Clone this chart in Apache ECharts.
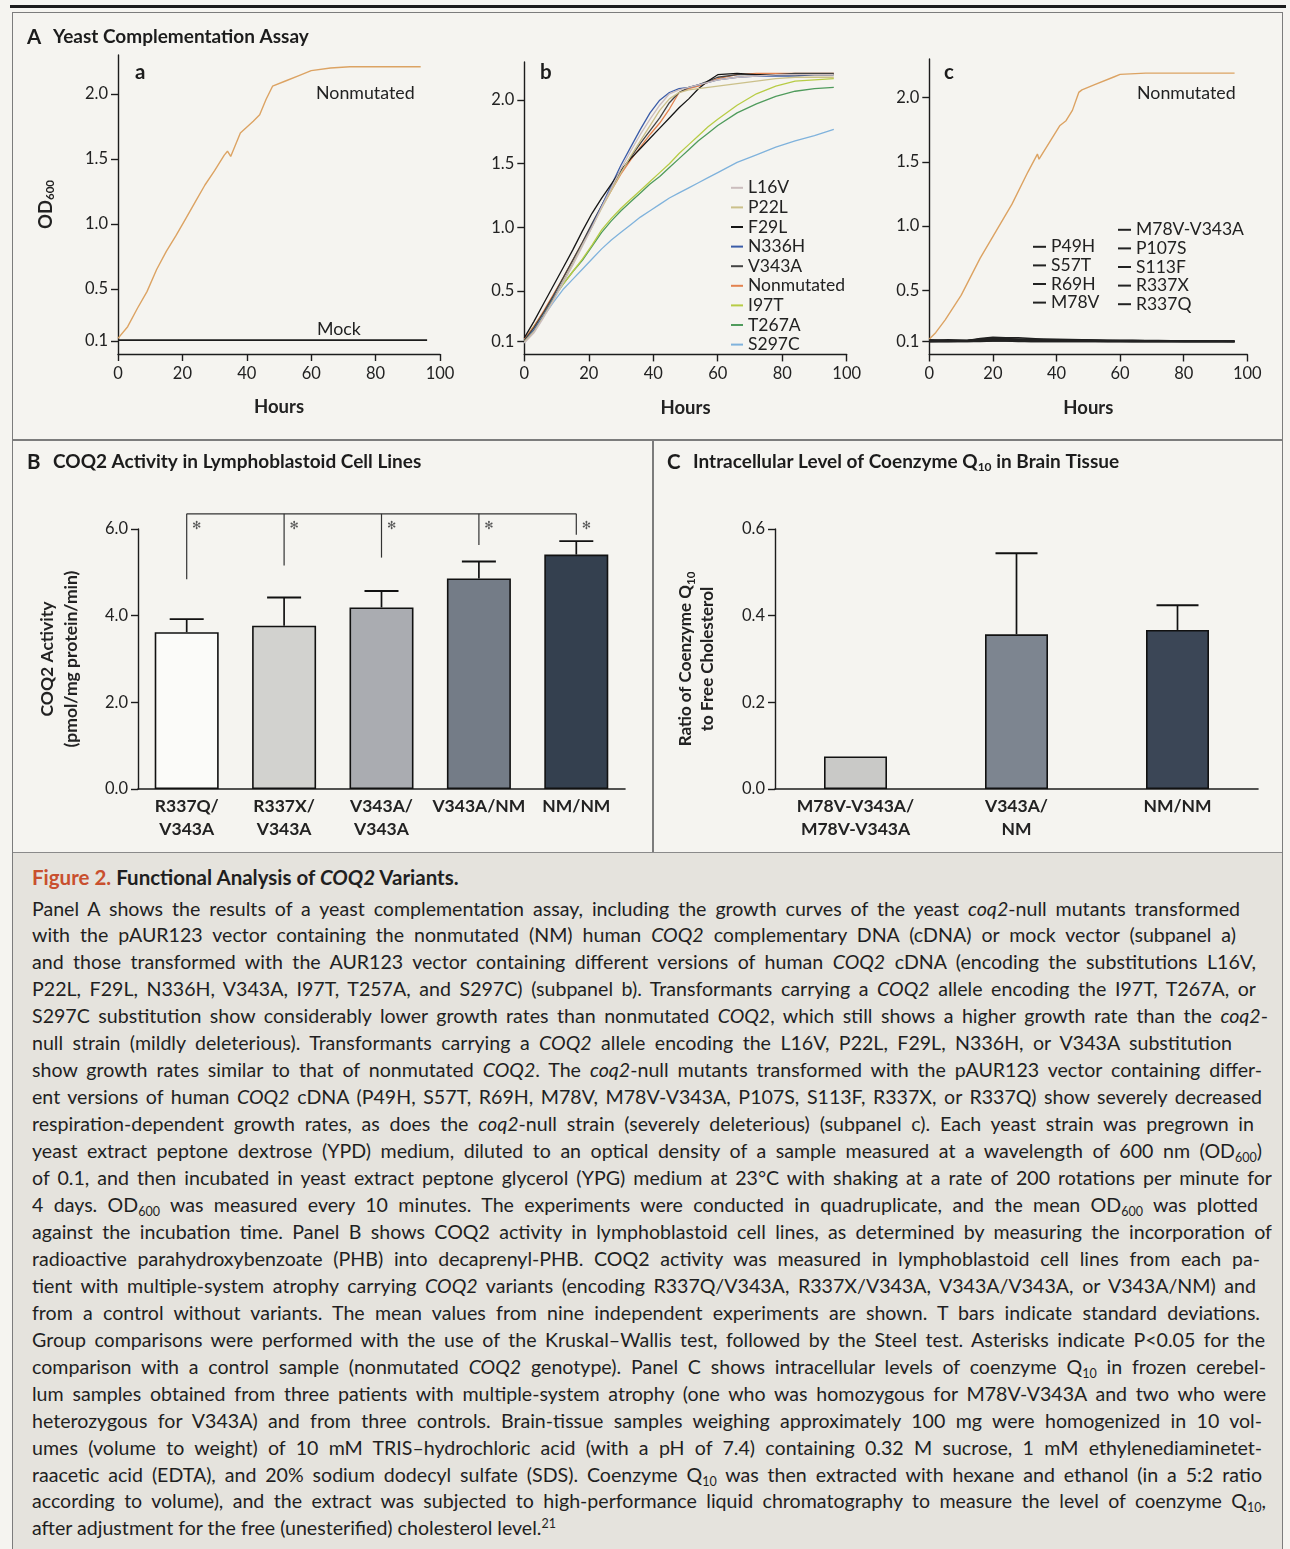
<!DOCTYPE html>
<html>
<head>
<meta charset="utf-8">
<script src="https://cdn.jsdelivr.net/npm/echarts@6/dist/echarts.min.js"></script>
<style>
  html, body { margin:0; padding:0; width:1290px; height:1549px; overflow:hidden; background:#f5f4f0; font-family: Lato, "Open Sans", sans-serif; }
  .abs { position:absolute; }
  #chart { position:absolute; left:0; top:0; width:1290px; height:852px; }
  #cap { position:absolute; left:32px; top:0; color:#1f1f1f; }
  .ttl { position:absolute; left:0; top:864px; height:26px; line-height:26px; font-size:20.5px; font-weight:bold; white-space:nowrap; }
  .ttl .fig { color:#c9502e; }
  #body { position:absolute; left:0; top:895.5px; font-size:19.6px; }
  .ln { height:26.96px; line-height:26.96px; text-align:justify; text-align-last:justify; width:1230px; overflow:hidden; }
  .ln.last { text-align-last:left; }
  .sb { font-size:12.5px; vertical-align:-4px; line-height:0; }
  .sp { font-size:12.5px; vertical-align:7px; line-height:0; }
</style>
</head>
<body>
<!-- frame -->
<div class="abs" style="left:10px; top:5px; width:1276px; height:3px; background:#1c1c1c;"></div>
<div class="abs" style="left:12px; top:12px; width:1269px; height:1537px; border-left:1.5px solid #7c7c7c; border-right:1.5px solid #7c7c7c; border-top:1.5px solid #7c7c7c;"></div>
<div class="abs" style="left:12px; top:439px; width:1271px; height:1.5px; background:#7c7c7c;"></div>
<div class="abs" style="left:652px; top:440px; width:1.5px; height:412px; background:#7c7c7c;"></div>
<div class="abs" style="left:13px; top:852px; width:1269px; height:697px; background:#e5e3dd; border-top:1.5px solid #8a8a8a;"></div>

<div id="chart"></div>

<div id="cap">
  <div class="ttl"><span class="fig">Figure 2.</span> Functional Analysis of <i>COQ2</i> Variants.</div>
  <div id="body">
    <div class="ln" style="width:1208px">Panel A shows the results of a yeast complementation assay, including the growth curves of the yeast <i>coq2</i>-null mutants transformed</div>
    <div class="ln" style="width:1204px">with the pAUR123 vector containing the nonmutated (NM) human <i>COQ2</i> complementary DNA (cDNA) or mock vector (subpanel a)</div>
    <div class="ln" style="width:1224px">and those transformed with the AUR123 vector containing different versions of human <i>COQ2</i> cDNA (encoding the substitutions L16V,</div>
    <div class="ln" style="width:1224px">P22L, F29L, N336H, V343A, I97T, T257A, and S297C) (subpanel b). Transformants carrying a <i>COQ2</i> allele encoding the I97T, T267A, or</div>
    <div class="ln" style="width:1236px">S297C substitution show considerably lower growth rates than nonmutated <i>COQ2</i>, which still shows a higher growth rate than the <i>coq2</i>-</div>
    <div class="ln" style="width:1200px">null strain (mildly deleterious). Transformants carrying a <i>COQ2</i> allele encoding the L16V, P22L, F29L, N336H, or V343A substitution</div>
    <div class="ln">show growth rates similar to that of nonmutated <i>COQ2</i>. The <i>coq2</i>-null mutants transformed with the pAUR123 vector containing differ-</div>
    <div class="ln">ent versions of human <i>COQ2</i> cDNA (P49H, S57T, R69H, M78V, M78V-V343A, P107S, S113F, R337X, or R337Q) show severely decreased</div>
    <div class="ln" style="width:1222px">respiration-dependent growth rates, as does the <i>coq2</i>-null strain (severely deleterious) (subpanel c). Each yeast strain was pregrown in</div>
    <div class="ln">yeast extract peptone dextrose (YPD) medium, diluted to an optical density of a sample measured at a wavelength of 600 nm (OD<span class="sb">600</span>)</div>
    <div class="ln" style="width:1240px">of 0.1, and then incubated in yeast extract peptone glycerol (YPG) medium at 23°C with shaking at a rate of 200 rotations per minute for</div>
    <div class="ln" style="width:1226px">4 days. OD<span class="sb">600</span> was measured every 10 minutes. The experiments were conducted in quadruplicate, and the mean OD<span class="sb">600</span> was plotted</div>
    <div class="ln" style="width:1240px">against the incubation time. Panel B shows COQ2 activity in lymphoblastoid cell lines, as determined by measuring the incorporation of</div>
    <div class="ln" style="width:1228px">radioactive parahydroxybenzoate (PHB) into decaprenyl-PHB. COQ2 activity was measured in lymphoblastoid cell lines from each pa-</div>
    <div class="ln" style="width:1224px">tient with multiple-system atrophy carrying <i>COQ2</i> variants (encoding R337Q/V343A, R337X/V343A, V343A/V343A, or V343A/NM) and</div>
    <div class="ln" style="width:1228px">from a control without variants. The mean values from nine independent experiments are shown. T bars indicate standard deviations.</div>
    <div class="ln" style="width:1233px">Group comparisons were performed with the use of the Kruskal–Wallis test, followed by the Steel test. Asterisks indicate P&lt;0.05 for the</div>
    <div class="ln" style="width:1234px">comparison with a control sample (nonmutated <i>COQ2</i> genotype). Panel C shows intracellular levels of coenzyme Q<span class="sb">10</span> in frozen cerebel-</div>
    <div class="ln" style="width:1234px">lum samples obtained from three patients with multiple-system atrophy (one who was homozygous for M78V-V343A and two who were</div>
    <div class="ln">heterozygous for V343A) and from three controls. Brain-tissue samples weighing approximately 100 mg were homogenized in 10 vol-</div>
    <div class="ln">umes (volume to weight) of 10 mM TRIS–hydrochloric acid (with a pH of 7.4) containing 0.32 M sucrose, 1 mM ethylenediaminetet-</div>
    <div class="ln">raacetic acid (EDTA), and 20% sodium dodecyl sulfate (SDS). Coenzyme Q<span class="sb">10</span> was then extracted with hexane and ethanol (in a 5:2 ratio</div>
    <div class="ln" style="width:1234px">according to volume), and the extract was subjected to high-performance liquid chromatography to measure the level of coenzyme Q<span class="sb">10</span>,</div>
    <div class="ln last">after adjustment for the free (unesterified) cholesterol level.<span class="sp">21</span></div>
  </div>
</div>

<script>
// ---------------- DATA ----------------
// Subpanel a
const A_HOURS   = [0,3,6,9,12,15,18,21,24,27,30,33,34,35,38,42,44,46,48,52,56,60,66,72,80,88,94];
const A_NONMUT  = [0.12,0.21,0.35,0.48,0.65,0.79,0.91,1.04,1.17,1.30,1.41,1.53,1.56,1.52,1.70,1.79,1.84,1.96,2.06,2.10,2.14,2.18,2.20,2.21,2.21,2.21,2.21];
const MOCK_HOURS = [0,48,96];
const MOCK_OD    = [0.107,0.107,0.107];

// Subpanel b
const B_HOURS = [0,3,6,9,12,15,18,21,24,27,30,33,36,39,42,45,48,51,54,57,60,66,72,78,84,90,96];
const L16V    = [0.09,0.17,0.29,0.42,0.56,0.70,0.85,1.00,1.16,1.31,1.46,1.60,1.73,1.85,1.96,2.05,2.08,2.10,2.12,2.14,2.16,2.18,2.19,2.20,2.20,2.20,2.20];
const P22L    = [0.10,0.18,0.30,0.43,0.57,0.71,0.86,1.00,1.15,1.29,1.43,1.56,1.68,1.80,1.92,2.01,2.06,2.08,2.09,2.10,2.11,2.13,2.15,2.17,2.18,2.18,2.18];
const F29L    = [0.13,0.26,0.40,0.54,0.68,0.82,0.97,1.11,1.23,1.34,1.45,1.54,1.62,1.70,1.78,1.86,1.94,2.01,2.09,2.15,2.20,2.21,2.20,2.20,2.20,2.20,2.20];
const N336H   = [0.10,0.19,0.31,0.44,0.57,0.71,0.86,1.01,1.17,1.33,1.49,1.63,1.77,1.90,2.00,2.06,2.09,2.10,2.12,2.14,2.16,2.18,2.19,2.19,2.19,2.20,2.20];
const V343A   = [0.11,0.21,0.33,0.46,0.60,0.74,0.88,1.03,1.17,1.31,1.44,1.55,1.66,1.76,1.86,1.98,2.06,2.10,2.12,2.15,2.18,2.20,2.20,2.20,2.21,2.21,2.21];
const NONMUT_B= [0.12,0.22,0.34,0.47,0.60,0.74,0.88,1.02,1.16,1.29,1.42,1.53,1.63,1.73,1.82,1.93,2.06,2.09,2.11,2.14,2.17,2.20,2.21,2.21,2.21,2.21,2.21];
const I97T    = [0.11,0.22,0.33,0.44,0.55,0.65,0.75,0.86,0.98,1.07,1.15,1.22,1.29,1.36,1.43,1.50,1.58,1.65,1.72,1.79,1.85,1.96,2.05,2.11,2.15,2.16,2.17];
const T267A   = [0.11,0.22,0.33,0.44,0.55,0.65,0.74,0.85,0.96,1.05,1.13,1.20,1.27,1.34,1.40,1.47,1.54,1.61,1.68,1.74,1.80,1.90,1.97,2.03,2.07,2.09,2.10];
const S297C   = [0.09,0.20,0.30,0.41,0.51,0.59,0.67,0.75,0.83,0.90,0.96,1.02,1.08,1.13,1.18,1.23,1.27,1.31,1.35,1.39,1.43,1.51,1.57,1.63,1.68,1.72,1.77];
const B_NAMES = ['L16V','P22L','F29L','N336H','V343A','Nonmutated','I97T','T267A','S297C'];

// Subpanel c
const C_HOURS  = [0,2,5,10,16,21,26,31,34,34.5,37,41,43,45,47,48,52,58,60,68,80,96];
const C_NONMUT = [0.12,0.17,0.27,0.46,0.75,0.96,1.17,1.42,1.56,1.52,1.62,1.78,1.82,1.90,2.04,2.06,2.10,2.16,2.18,2.19,2.19,2.19];
const C_MUT_HOURS = [0,6,12,16,20,24,28,32,36,40,48,56,64,72,80,88,96];
const P49H  = [0.110,0.110,0.110,0.115,0.120,0.120,0.115,0.115,0.110,0.110,0.110,0.105,0.105,0.105,0.100,0.100,0.100];
const S57T  = [0.100,0.105,0.105,0.110,0.110,0.110,0.110,0.110,0.110,0.105,0.105,0.105,0.100,0.100,0.100,0.100,0.100];
const R69H  = [0.110,0.115,0.110,0.125,0.135,0.130,0.130,0.125,0.120,0.120,0.115,0.110,0.110,0.110,0.105,0.105,0.105];
const M78V  = [0.100,0.100,0.100,0.100,0.105,0.105,0.105,0.100,0.100,0.100,0.100,0.100,0.100,0.100,0.100,0.100,0.100];
const M78V_V343A = [0.115,0.110,0.110,0.120,0.130,0.125,0.120,0.120,0.120,0.115,0.115,0.110,0.110,0.105,0.105,0.105,0.100];
const P107S = [0.105,0.105,0.105,0.110,0.115,0.115,0.115,0.110,0.110,0.110,0.110,0.110,0.105,0.105,0.105,0.105,0.105];
const S113F = [0.100,0.100,0.105,0.105,0.110,0.110,0.110,0.110,0.105,0.105,0.105,0.100,0.100,0.100,0.100,0.100,0.100];
const R337X = [0.110,0.105,0.110,0.120,0.125,0.120,0.120,0.115,0.115,0.115,0.110,0.110,0.110,0.105,0.105,0.105,0.105];
const R337Q = [0.100,0.100,0.100,0.105,0.105,0.105,0.100,0.100,0.100,0.100,0.100,0.100,0.100,0.100,0.100,0.100,0.100];
const C_LEFT_NAMES  = ['P49H','S57T','R69H','M78V'];
const C_RIGHT_NAMES = ['M78V-V343A','P107S','S113F','R337X','R337Q'];

const OD_TICKS = [0.1, 0.5, 1.0, 1.5, 2.0];
const HOUR_TICKS_INTERVAL = 20;

// Panel B
const B_CATS = ['R337Q/\nV343A','R337X/\nV343A','V343A/\nV343A','V343A/NM','NM/NM'];
const B_VALUES = [3.62, 3.77, 4.19, 4.86, 5.41];
const B_SD     = [0.30, 0.65, 0.38, 0.39, 0.31];
const B_BRACKET_TOP = 6.35;
const B_BRACKET_END = [4.84, 5.16, 5.34, 5.63, 5.87];

// Panel C
const C_CATS = ['M78V-V343A/\nM78V-V343A','V343A/\nNM','NM/NM'];
const C_VALUES = [0.075, 0.357, 0.367];
const C_SD     = [null, 0.187, 0.057];

// ---------------- STYLE ----------------
const FONT = 'Lato, "Open Sans", sans-serif';
const INK = '#1c1c1c';
const B_COLORS = ['#fbfbf9','#d2d2cf','#aaacb1','#747c87','#34404f'];
const C_COLORS = ['#c9c9c7','#7d8590','#3b4656'];
const CURVE_COLORS = {
  'L16V':'#cbbdbd','P22L':'#cbc08a','F29L':'#151515','N336H':'#3b5ca8','V343A':'#444444',
  'Nonmutated':'#e3824f','I97T':'#b7cc45','T267A':'#4f9b5c','S297C':'#7fb2dc'
};
const B_SERIES_DATA = { 'L16V':L16V,'P22L':P22L,'F29L':F29L,'N336H':N336H,'V343A':V343A,'Nonmutated':NONMUT_B,'I97T':I97T,'T267A':T267A,'S297C':S297C };
const C_SERIES_DATA = { 'P49H':P49H,'S57T':S57T,'R69H':R69H,'M78V':M78V,'M78V-V343A':M78V_V343A,'P107S':P107S,'S113F':S113F,'R337X':R337X,'R337Q':R337Q };

const zip = (xs, ys) => xs.map((x, i) => [x, ys[i]]);

const axisLine = { show:true, onZero:false, lineStyle:{ color:INK, width:1.4 } };
const tickStyle = { color:INK, width:1.4 };

function timeX(gi) {
  return {
    type:'value', gridIndex:gi, min:0, max:100, interval:HOUR_TICKS_INTERVAL,
    axisLine, axisTick:{ show:true, length:7, lineStyle:tickStyle },
    axisLabel:{ fontSize:16.5, color:'#222', margin:11, fontFamily:FONT },
    splitLine:{ show:false },
    name:'Hours', nameLocation:'middle', nameGap:44,
    nameTextStyle:{ fontSize:18.5, fontWeight:'bold', color:'#222', fontFamily:FONT }
  };
}
function odY(gi, withName) {
  const ax = {
    type:'value', gridIndex:gi, min:0, max:2.3,
    axisLine, axisTick:{ show:true, length:7, lineStyle:tickStyle, customValues:OD_TICKS },
    axisLabel:{ customValues:OD_TICKS, formatter:v => v.toFixed(1), fontSize:16.5, color:'#222', margin:10, fontFamily:FONT },
    splitLine:{ show:false }
  };
  if (withName) {
    ax.name = '{b|OD}{s|600}';
    ax.nameLocation = 'middle';
    ax.nameGap = 62;
    ax.nameTextStyle = { rich:{
      b:{ fontSize:18.5, fontWeight:'bold', color:'#222', fontFamily:FONT, lineHeight:20 },
      s:{ fontSize:11.5, fontWeight:'bold', color:'#222', fontFamily:FONT, lineHeight:11, verticalAlign:'bottom' }
    }};
  }
  return ax;
}
function catX(gi, cats) {
  return {
    type:'category', gridIndex:gi, data:cats,
    axisLine:{ show:true, lineStyle:{ color:INK, width:1.6 } },
    axisTick:{ show:false },
    axisLabel:{ interval:0, fontSize:17.5, fontWeight:'bold', color:'#222', lineHeight:23, margin:6, fontFamily:FONT }
  };
}

function errRender(capHalf) {
  return function (params, api) {
    const i = api.value(0), v = api.value(1), e = api.value(2);
    const p0 = api.coord([i, v]), p1 = api.coord([i, v + e]);
    return { type:'group', children:[
      { type:'line', shape:{ x1:p0[0], y1:p0[1], x2:p1[0], y2:p1[1] }, style:{ stroke:'#111', lineWidth:1.7 } },
      { type:'line', shape:{ x1:p1[0]-capHalf, y1:p1[1], x2:p1[0]+capHalf, y2:p1[1] }, style:{ stroke:'#111', lineWidth:1.9 } }
    ]};
  };
}
function bracketRender(params, api) {
  const i = api.value(0), end = api.value(1);
  const top = api.coord([i, B_BRACKET_TOP]), bot = api.coord([i, end]);
  const children = [
    { type:'line', shape:{ x1:top[0], y1:top[1], x2:bot[0], y2:bot[1] }, style:{ stroke:'#333', lineWidth:1.2 } },
    { type:'text', x:top[0] + 10, y:top[1] + 12, style:{ text:'✻', fontSize:11, fill:'#555', fontFamily:'DejaVu Sans', align:'center', verticalAlign:'middle' } }
  ];
  if (params.dataIndex === 0) {
    const last = api.coord([B_CATS.length - 1, B_BRACKET_TOP]);
    children.push({ type:'line', shape:{ x1:top[0], y1:top[1], x2:last[0], y2:last[1] }, style:{ stroke:'#333', lineWidth:1.2 } });
  }
  return { type:'group', children };
}

const txt = (x, y, text, font, fill) => ({ type:'text', x, y, style:{ text, font, fill: fill || '#1c1c1c', verticalAlign:'middle' } });

const series = [];
// a
series.push({ name:'a: Nonmutated', type:'line', xAxisIndex:0, yAxisIndex:0, data:zip(A_HOURS, A_NONMUT), showSymbol:false, lineStyle:{ color:'#dca363', width:1.4 }, color:'#dca363' });
series.push({ name:'a: Mock', type:'line', xAxisIndex:0, yAxisIndex:0, data:zip(MOCK_HOURS, MOCK_OD), showSymbol:false, lineStyle:{ color:INK, width:1.6 }, color:INK });
// b
B_NAMES.slice().reverse().forEach(n => {
  series.push({ name:n, type:'line', xAxisIndex:1, yAxisIndex:1, data:zip(B_HOURS, B_SERIES_DATA[n]), showSymbol:false, lineStyle:{ color:CURVE_COLORS[n], width:1.3 }, color:CURVE_COLORS[n] });
});
// c
C_LEFT_NAMES.concat(C_RIGHT_NAMES).forEach(n => {
  series.push({ name:n, type:'line', xAxisIndex:2, yAxisIndex:2, data:zip(C_MUT_HOURS, C_SERIES_DATA[n]), showSymbol:false, lineStyle:{ color:'#222', width:1.4 }, color:'#222' });
});
series.push({ name:'c: Nonmutated', type:'line', xAxisIndex:2, yAxisIndex:2, data:zip(C_HOURS, C_NONMUT), showSymbol:false, lineStyle:{ color:'#dca363', width:1.4 }, color:'#dca363' });
// B
series.push({ name:'COQ2 activity', type:'bar', xAxisIndex:3, yAxisIndex:3, barWidth:64,
  data:B_VALUES.map((v, i) => ({ value:v, itemStyle:{ color:B_COLORS[i] } })),
  itemStyle:{ borderColor:'#111', borderWidth:1.6 } });
series.push({ name:'COQ2 SD', type:'custom', xAxisIndex:3, yAxisIndex:3, renderItem:errRender(17), clip:false, z:3,
  encode:{ x:0, y:1 }, data:B_VALUES.map((v, i) => [i, v, B_SD[i]]) });
series.push({ name:'Significance', type:'custom', xAxisIndex:3, yAxisIndex:3, renderItem:bracketRender, clip:false, z:3,
  encode:{ x:0, y:1 }, data:B_BRACKET_END.map((v, i) => [i, v]) });
// C
series.push({ name:'CoQ10 ratio', type:'bar', xAxisIndex:4, yAxisIndex:4, barWidth:63,
  data:C_VALUES.map((v, i) => ({ value:v, itemStyle:{ color:C_COLORS[i] } })),
  itemStyle:{ borderColor:'#111', borderWidth:1.6 } });
series.push({ name:'CoQ10 SD', type:'custom', xAxisIndex:4, yAxisIndex:4, renderItem:errRender(21), clip:false, z:3,
  encode:{ x:0, y:1 }, data:C_VALUES.map((v, i) => [i, v, C_SD[i]]).filter(d => d[2] != null) });

const legendText = { fontSize:17.5, color:'#222', fontFamily:FONT };
const option = {
  animation:false,
  textStyle:{ fontFamily:FONT },
  grid:[
    { left:118, top:55, width:322, height:299 },
    { left:524.3, top:62, width:322.4, height:292.4 },
    { left:929.3, top:59, width:318, height:295.5 },
    { left:138, top:529, width:487, height:260 },
    { left:775, top:529, width:483, height:260 }
  ],
  xAxis:[ timeX(0), timeX(1), timeX(2), catX(3, B_CATS), catX(4, C_CATS) ],
  yAxis:[
    odY(0, true), odY(1, false), odY(2, false),
    { type:'value', gridIndex:3, min:0, max:6, interval:2,
      axisLine:{ show:true, lineStyle:{ color:INK, width:1.4 } }, axisTick:{ show:true, length:7, lineStyle:tickStyle },
      axisLabel:{ formatter:v => v.toFixed(1), fontSize:16.5, color:'#222', margin:10, fontFamily:FONT }, splitLine:{ show:false },
      name:'COQ2 Activity\n(pmol/mg protein/min)', nameLocation:'middle', nameGap:55,
      nameTextStyle:{ fontSize:17.5, fontWeight:'bold', color:'#222', lineHeight:24, fontFamily:FONT } },
    { type:'value', gridIndex:4, min:0, max:0.6, interval:0.2,
      axisLine:{ show:true, lineStyle:{ color:INK, width:1.4 } }, axisTick:{ show:true, length:7, lineStyle:tickStyle },
      axisLabel:{ formatter:v => v.toFixed(1), fontSize:16.5, color:'#222', margin:10, fontFamily:FONT }, splitLine:{ show:false },
      name:'{t|Ratio of Coenzyme Q}{s|10}\n{t|to Free Cholesterol}', nameLocation:'middle', nameGap:56,
      nameTextStyle:{ rich:{
        t:{ fontSize:17, fontWeight:'bold', color:'#222', fontFamily:FONT, lineHeight:22 },
        s:{ fontSize:11.5, fontWeight:'bold', color:'#222', fontFamily:FONT, lineHeight:11, verticalAlign:'bottom' }
      } } }
  ],
  legend:[
    { orient:'vertical', left:726, top:173, itemWidth:12, itemHeight:2, itemGap:0, icon:'rect', selectedMode:false,
      data:B_NAMES, textStyle:Object.assign({ lineHeight:19.6 }, legendText) },
    { orient:'vertical', left:1028, top:232.5, itemWidth:13, itemHeight:2, itemGap:0, icon:'rect', selectedMode:false,
      data:C_LEFT_NAMES, textStyle:Object.assign({ lineHeight:18.6 }, legendText) },
    { orient:'vertical', left:1113, top:215.5, itemWidth:13, itemHeight:2, itemGap:0, icon:'rect', selectedMode:false,
      data:C_RIGHT_NAMES, textStyle:Object.assign({ lineHeight:18.6 }, legendText) }
  ],
  graphic:[
    txt(27, 37, 'A', 'bold 20.5px ' + FONT),
    txt(53, 37, 'Yeast Complementation Assay', 'bold 19px ' + FONT),
    txt(27, 462, 'B', 'bold 20.5px ' + FONT),
    txt(53, 462, 'COQ2 Activity in Lymphoblastoid Cell Lines', 'bold 19px ' + FONT),
    txt(667, 462, 'C', 'bold 20.5px ' + FONT),
    { type:'text', x:693, y:462, style:{ text:'{t|Intracellular Level of Coenzyme Q}{s|10}{t| in Brain Tissue}', verticalAlign:'middle',
      rich:{ t:{ font:'bold 19px ' + FONT, fill:'#1c1c1c', lineHeight:22 }, s:{ font:'bold 12px ' + FONT, fill:'#1c1c1c', lineHeight:12, verticalAlign:'bottom' } } } },
    txt(135, 72, 'a', 'bold 20.5px ' + FONT),
    txt(540, 72, 'b', 'bold 20.5px ' + FONT),
    txt(944, 72, 'c', 'bold 20.5px ' + FONT),
    txt(316, 93, 'Nonmutated', '17.8px ' + FONT, '#222'),
    txt(317, 329, 'Mock', '17.8px ' + FONT, '#222'),
    txt(1137, 93, 'Nonmutated', '17.8px ' + FONT, '#222')
  ],
  series
};

const chart = echarts.init(document.getElementById('chart'), null, { renderer:'canvas' });
chart.setOption(option);
</script>
</body>
</html>
